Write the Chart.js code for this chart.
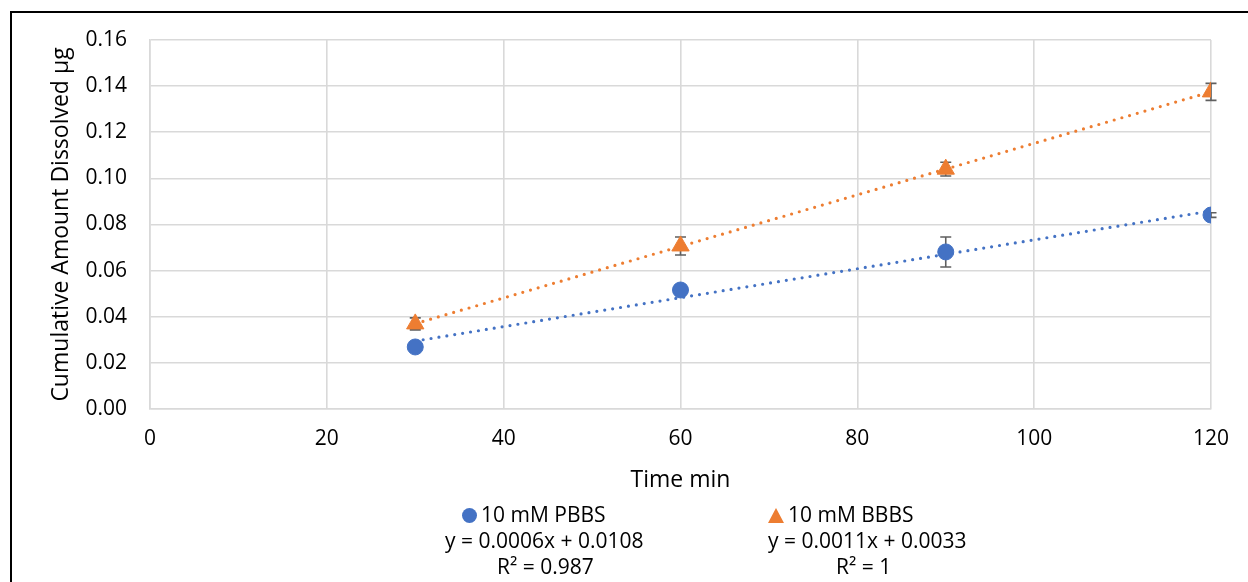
<!DOCTYPE html>
<html>
<head>
<meta charset="utf-8">
<script src="https://cdn.jsdelivr.net/npm/chart.js@4"></script>
<style>
  body { margin: 0; background: #fff; overflow: hidden; }
  #frame { position: absolute; left: 10px; top: 11px; width: 1260px; height: 600px;
           border-left: 2px solid #000; border-top: 2px solid #000; }
  #wrap { position: absolute; left: 0; top: 0; width: 1248px; height: 582px; }
  .leg { position: absolute; font-family: 'Open Sans', sans-serif; font-size: 21px;
         color: #000; white-space: nowrap; line-height: 26px; }
  .dot { display: inline-block; width: 15px; height: 15px; border-radius: 50%;
         background: #4472C4; margin-right: 4px; vertical-align: -1px; }
  .tri { display: inline-block; width: 0; height: 0; border-left: 8px solid transparent;
         border-right: 8px solid transparent; border-bottom: 15px solid #ED7D31;
         margin-right: 4px; vertical-align: -1px; }
</style>
</head>
<body>
<div id="frame"></div>
<div id="wrap"><canvas id="chart" width="1248" height="582"></canvas></div>
<div class="leg" style="left:462px; top:501px;"><span class="dot"></span>10 mM PBBS</div>
<div class="leg" style="left:445px; top:527px;">y = 0.0006x + 0.0108</div>
<div class="leg" style="left:497px; top:553px;">R² = 0.987</div>
<div class="leg" style="left:768px; top:501px;"><span class="tri"></span>10 mM BBBS</div>
<div class="leg" style="left:768px; top:527px;">y = 0.0011x + 0.0033</div>
<div class="leg" style="left:836px; top:553px;">R² = 1</div>
<script>
// time points (min)
const timePoints = [30, 60, 90, 120];
// cumulative amount dissolved (µg)
const pbbsValues = [0.0269, 0.0516, 0.0681, 0.0841];
const bbbsValues = [0.0369, 0.0707, 0.1040, 0.1375];
// standard deviations
const pbbsErrors = [0.0005, 0.0008, 0.0065, 0.0010];
const bbbsErrors = [0.0026, 0.0039, 0.0030, 0.0037];
const seriesNames = ['10 mM PBBS', '10 mM BBBS'];

const BLUE = '#4472C4';
const ORANGE = '#ED7D31';
const FONT = "'Open Sans', sans-serif";

// least squares line across the data range, like an Excel linear trendline
function trendPoints(xs, ys) {
    const n = xs.length;
    const mx = xs.reduce((a, b) => a + b, 0) / n;
    const my = ys.reduce((a, b) => a + b, 0) / n;
    let sxy = 0, sxx = 0;
    xs.forEach((x, i) => { sxy += (x - mx) * (ys[i] - my); sxx += (x - mx) * (x - mx); });
    const slope = sxy / sxx;
    const icpt = my - slope * mx;
    const x0 = Math.min(...xs), x1 = Math.max(...xs);
    return [{ x: x0, y: slope * x0 + icpt }, { x: x1, y: slope * x1 + icpt }];
}

const toPoints = (ys) => timePoints.map((x, i) => ({ x: x, y: ys[i] }));

// error bars drawn before the markers so the markers sit on top
const errorBars = {
    id: 'errorBars',
    beforeDatasetsDraw(chart) {
        const { ctx, scales: { x, y } } = chart;
        const sets = [[pbbsValues, pbbsErrors], [bbbsValues, bbbsErrors]];
        ctx.save();
        ctx.strokeStyle = '#5f5f5f';
        ctx.lineWidth = 1.6;
        sets.forEach(([vals, errs]) => {
            vals.forEach((v, i) => {
                const px = x.getPixelForValue(timePoints[i]);
                const top = y.getPixelForValue(v + errs[i]);
                const bot = y.getPixelForValue(v - errs[i]);
                ctx.beginPath();
                ctx.moveTo(px, top); ctx.lineTo(px, bot);
                ctx.moveTo(px - 5.5, top); ctx.lineTo(px + 5.5, top);
                ctx.moveTo(px - 5.5, bot); ctx.lineTo(px + 5.5, bot);
                ctx.stroke();
            });
        });
        ctx.restore();
    }
};

new Chart(document.getElementById('chart'), {
    type: 'scatter',
    data: {
        datasets: [
            {
                label: seriesNames[0],
                data: toPoints(pbbsValues),
                backgroundColor: BLUE,
                borderColor: BLUE,
                pointStyle: 'circle',
                pointRadius: 8,
                pointHoverRadius: 8,
                order: 1
            },
            {
                label: seriesNames[1],
                data: toPoints(bbbsValues),
                backgroundColor: ORANGE,
                borderColor: ORANGE,
                pointStyle: 'triangle',
                pointRadius: 10,
                pointHoverRadius: 10,
                order: 1
            },
            {
                type: 'line',
                label: 'trend PBBS',
                data: trendPoints(timePoints, pbbsValues),
                borderColor: BLUE,
                borderWidth: 3.2,
                borderDash: [0, 8],
                borderCapStyle: 'round',
                pointRadius: 0,
                fill: false,
                order: 2
            },
            {
                type: 'line',
                label: 'trend BBBS',
                data: trendPoints(timePoints, bbbsValues),
                borderColor: ORANGE,
                borderWidth: 3.2,
                borderDash: [0, 8],
                borderCapStyle: 'round',
                pointRadius: 0,
                fill: false,
                order: 2
            }
        ]
    },
    options: {
        responsive: false,
        animation: false,
        layout: { padding: { left: 0, top: 40, right: 37, bottom: 0 } },
        plugins: {
            legend: { display: false },
            tooltip: { enabled: false }
        },
        scales: {
            x: {
                type: 'linear',
                min: 0,
                max: 120,
                ticks: { stepSize: 20, padding: 17, color: '#000', font: { family: FONT, size: 21 } },
                grid: { color: '#d9d9d9', lineWidth: 1.6, drawTicks: false },
                border: { color: '#d9d9d9', width: 1.6 },
                title: {
                    display: true,
                    text: 'Time min',
                    color: '#000',
                    font: { family: FONT, size: 23 },
                    padding: { top: 0, bottom: 88 }
                },
                afterFit(scale) { scale.height = 173; }
            },
            y: {
                min: 0,
                max: 0.16,
                ticks: {
                    stepSize: 0.02,
                    padding: 23,
                    color: '#000',
                    font: { family: FONT, size: 21 },
                    callback: (v) => v.toFixed(2)
                },
                grid: { color: '#d9d9d9', lineWidth: 1.6, drawTicks: false },
                border: { color: '#d9d9d9', width: 1.6 },
                title: {
                    display: true,
                    text: 'Cumulative Amount Dissolved µg',
                    color: '#000',
                    font: { family: FONT, size: 23 },
                    padding: { top: 48, bottom: 0 }
                },
                afterFit(scale) { scale.width = 150; }
            }
        }
    },
    plugins: [errorBars]
});
</script>
</body>
</html>
